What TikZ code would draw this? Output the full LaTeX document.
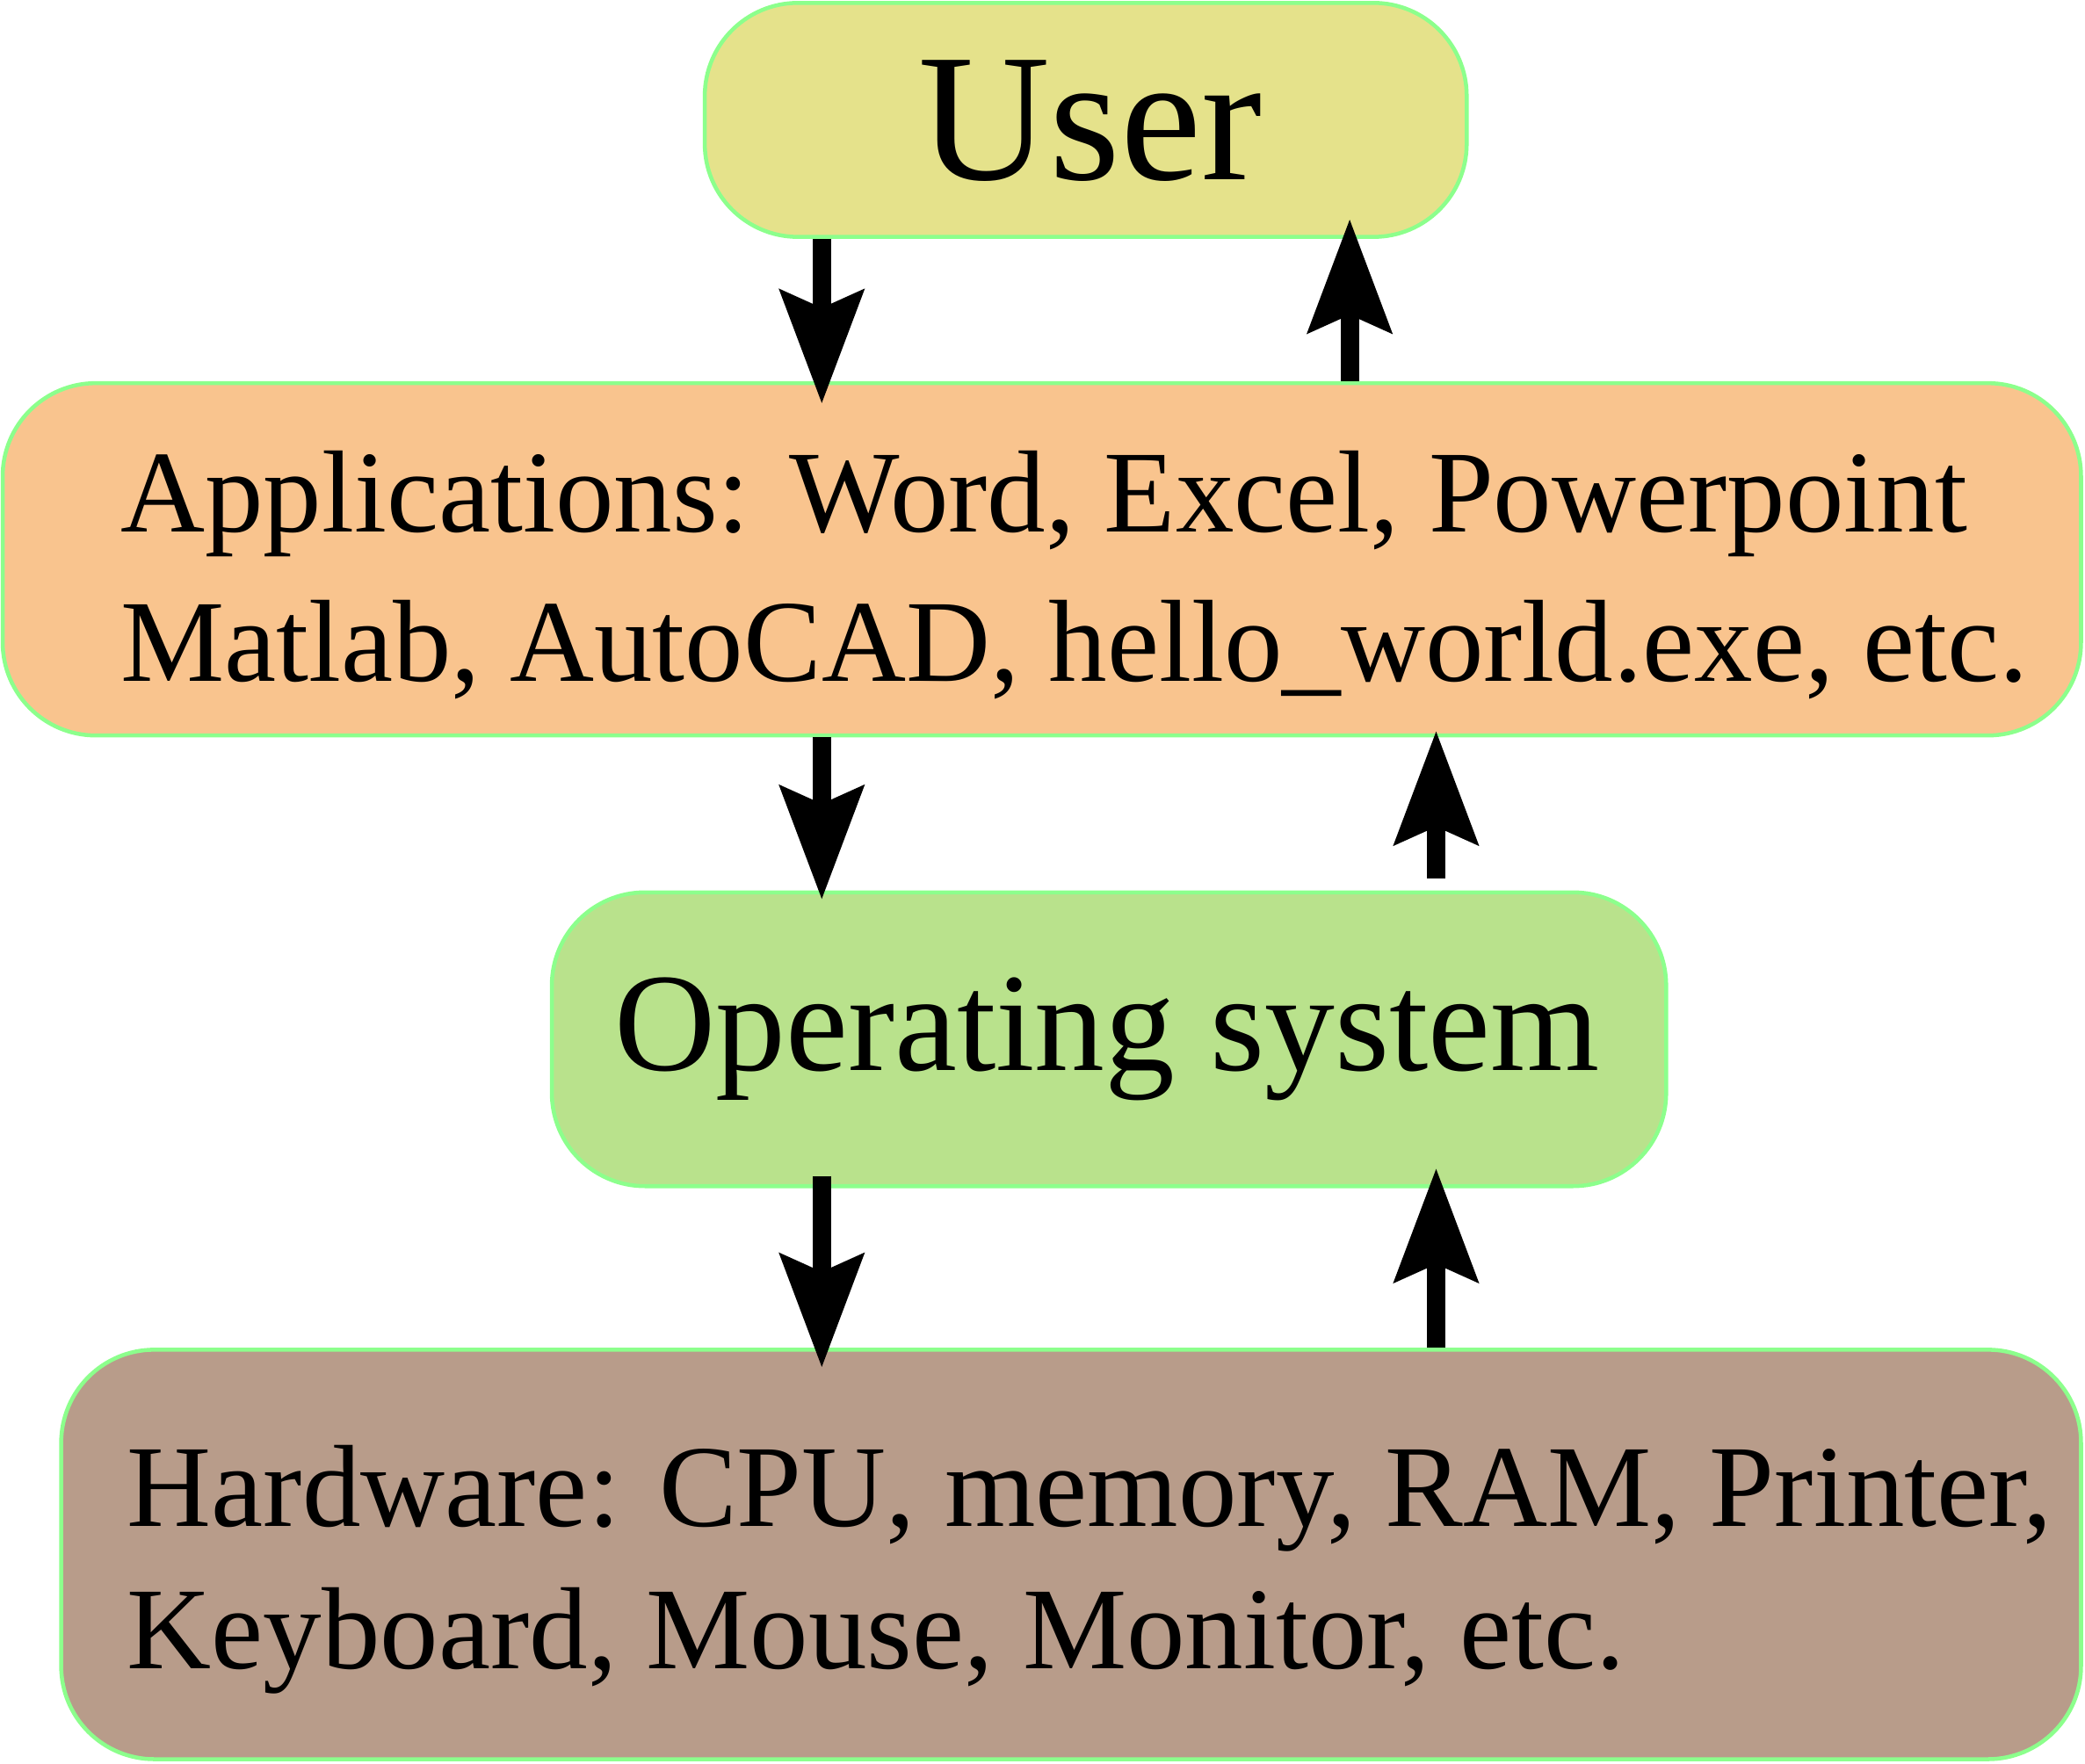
\documentclass[tikz,border=0pt]{standalone}
\usepackage{fontspec}
\setmainfont{Liberation Serif}
\usetikzlibrary{arrows.meta}

\definecolor{usercol}{RGB}{229,226,139}
\definecolor{appcol}{RGB}{249,196,142}
\definecolor{oscol}{RGB}{185,226,140}
\definecolor{hwcol}{RGB}{184,156,138}
\definecolor{edgecol}{RGB}{140,255,140}

\begin{document}
\begin{tikzpicture}[
    layer/.style={draw=edgecol,line width=0.85pt,rounded corners=0.7cm,inner sep=0pt},
    flow/.style={line width=0.14cm,-{Stealth[length=0.85cm,width=0.62cm,inset=0.13cm]}},
    small/.style={font=\fontsize{25}{30}\selectfont,inner sep=0pt}]
    \useasboundingbox (0,0) rectangle (15.68,13.262);
    % boxes
    \node[layer,fill=usercol,minimum width=5.73cm,minimum height=1.76cm] (user) at (8.165,12.36) {};
    \node[layer,fill=appcol,minimum width=15.63cm,minimum height=2.65cm] (apps) at (7.835,9.055) {};
    \node[layer,fill=oscol,minimum width=8.38cm,minimum height=2.21cm] (os) at (8.34,5.445) {};
    \node[layer,fill=hwcol,minimum width=15.19cm,minimum height=3.08cm] (hw) at (8.055,1.57) {};
    % texts
    \node[font=\fontsize{39}{45}\selectfont,inner sep=0pt,anchor=base] (usertext) at (8.20,11.91) {User};
    \node[small,anchor=base west] (apps1) at (0.90,9.26) {Applications: Word, Excel, Powerpoint};
    \node[small,anchor=base west] (apps2) at (0.90,8.14) {Matlab, AutoCAD, hello\_world.exe, etc.};
    \node[font=\fontsize{30}{36}\selectfont,inner sep=0pt,anchor=base] (ostext) at (8.325,5.21) {Operating system};
    \node[small,anchor=base west] (hw1) at (0.95,1.78) {Hardware: CPU, memory, RAM, Printer,};
    \node[small,anchor=base west] (hw2) at (0.95,0.71) {Keyboard, Mouse, Monitor, etc.};
    % arrows
    \coordinate (down) at (6.18,0);
    \coordinate (upA) at (10.15,0);
    \coordinate (upB) at (10.80,0);
    \draw[flow,shorten >=-0.17cm] (user.south -| down) -- (apps.north -| down);
    \draw[flow,shorten >=-0.15cm] (apps.north -| upA) -- (user.south -| upA);
    \draw[flow,shorten >=-0.07cm] (apps.south -| down) -- (os.north -| down);
    \draw[flow,shorten <=0.09cm,shorten >=-0.05cm] (os.north -| upB) -- (apps.south -| upB);
    \draw[flow,shorten <=-0.09cm,shorten >=-0.15cm] (os.south -| down) -- (hw.north -| down);
    \draw[flow,shorten >=-0.15cm] (hw.north -| upB) -- (os.south -| upB);
\end{tikzpicture}
\end{document}
